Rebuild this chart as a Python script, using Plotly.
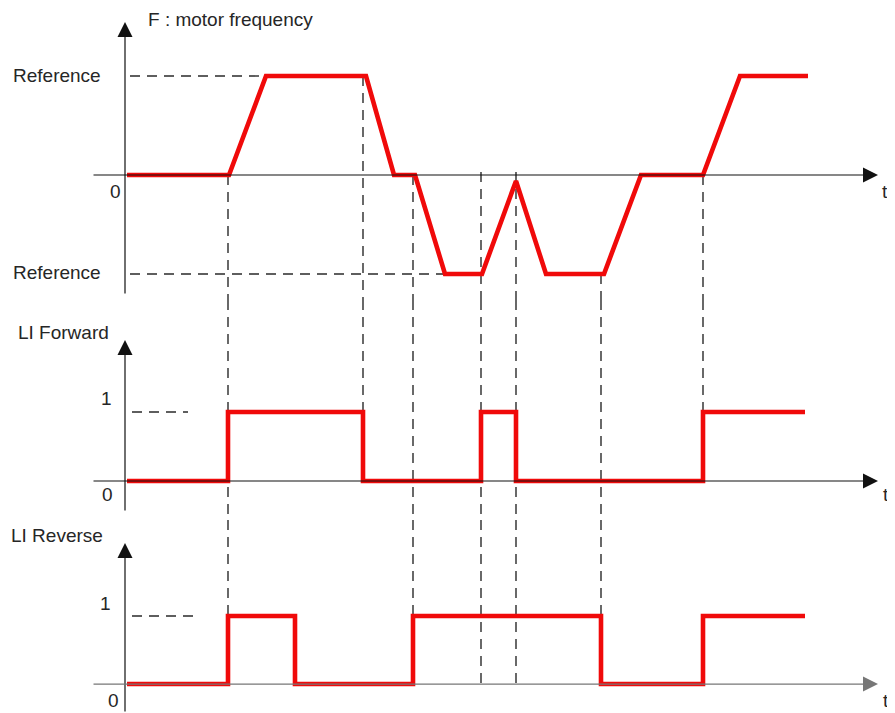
import plotly.graph_objects as go

# ---- signals (time in arbitrary units, 0 = vertical axis) ----
t_freq = [2, 104, 141, 241, 269, 290, 320, 357, 391, 421, 479, 516, 578, 615, 683]
f_freq = [0, 0, 1, 1, 0, 0, -1, -1, -0.06, -1, -1, 0, 0, 1, 1]

t_fwd = [2, 103, 103, 238, 238, 356, 356, 391, 391, 578, 578, 680]
v_fwd = [0, 0, 1, 1, 0, 0, 1, 1, 0, 0, 1, 1]

t_rev = [2, 103, 103, 170, 170, 288, 288, 476, 476, 578, 578, 680]
v_rev = [0, 0, 1, 1, 0, 0, 1, 1, 0, 0, 1, 1]

# vertical guides: (t, start panel, start level, end panel, end level)
guides = [
    (103, 0, 0, 2, 1),
    (238, 0, 1, 1, 1),
    (288, 0, 0, 2, 1),
    (356, 0, 0.03, 2, 0),
    (391, 0, 0.03, 2, 0),
    (476, 0, -1, 2, 1),
    (578, 0, 0, 1, 1),
]
# horizontal level guides: (panel, level, t0, t1)
levels = [(0, 1, 5, 140), (0, -1, 5, 320), (1, 1, 7, 63), (2, 1, 7, 68)]

panel_titles = ["F : motor frequency", "LI Forward", "LI Reverse"]

RED = "#f00a0a"
INK = "#262626"
FONT = "Liberation Sans, Arial, sans-serif"

# page has an 8px body margin, so the figure is 8px smaller each way
W, H = 887, 705
yaxes = ["y", "y2", "y3"]
ranges = [(-1.263, 1.687), (-0.565, 2.623), (-0.426, 2.412)]
domains = [(1 - 292 / H, 1), (1 - 512 / H, 1 - 292 / H), (0, 1 - 512 / H)]

fig = go.Figure()

# dashed guides
for i, ya in enumerate(yaxes):
    xs, ys = [], []
    for t, p0, v0, p1, v1 in guides:
        if p0 <= i <= p1:
            top = v0 if i == p0 else ranges[i][1]
            bot = v1 if i == p1 else ranges[i][0]
            xs += [t, t, None]
            ys += [top, bot, None]
    for p, lv, a, b in levels:
        if p == i:
            xs += [a, b, None]
            ys += [lv, lv, None]
    fig.add_trace(go.Scatter(x=xs, y=ys, mode="lines", yaxis=ya, hoverinfo="skip",
                             line=dict(color="#2a2a2a", width=1.4, dash="10px,7px")))

# signals
for (xs, ys), ya in zip([(t_freq, f_freq), (t_fwd, v_fwd), (t_rev, v_rev)], yaxes):
    fig.add_trace(go.Scatter(x=xs, y=ys, mode="lines", yaxis=ya,
                             line=dict(color=RED, width=4.6)))

# axes with arrows
v_axis = [(1.545, -1.212), (2.043, -0.449), (2.074, -0.426)]
h_col = ["#111111", "#111111", "#777777"]
ann = []
for i, ya in enumerate(yaxes):
    ann.append(dict(x=0, y=v_axis[i][0], ax=0, ay=v_axis[i][1], xref="x", yref=ya,
                    axref="x", ayref=ya, showarrow=True, arrowhead=2, arrowsize=2.5,
                    arrowwidth=1.2, arrowcolor="#111111", standoff=0, text=""))
    ann.append(dict(x=753, y=0, ax=-33, ay=0, xref="x", yref=ya,
                    axref="x", ayref=ya, showarrow=True, arrowhead=2, arrowsize=2.5,
                    arrowwidth=1.2, arrowcolor=h_col[i], standoff=0, text=""))

def label(text, x, y, ya, anchor="center"):
    ann.append(dict(x=x, y=y, xref="x", yref=ya, text=text, showarrow=False,
                    xanchor=anchor, yanchor="middle",
                    font=dict(family=FONT, size=19, color=INK)))

label(panel_titles[0], 21, 1.566, "y", "left")
label("Reference", -22, 1.01, "y", "right")
label("Reference", -22, -0.99, "y", "right")
label("0", -10, -0.17, "y")
label("t", 760, -0.17, "y")

label(panel_titles[1], -14, 2.145, "y2", "right")
label("1", -19, 1.2, "y2")
label("0", -18, -0.2, "y2")
label("t", 761, -0.2, "y2")

label(panel_titles[2], -20, 2.18, "y3", "right")
label("1", -20, 1.19, "y3")
label("0", -12, -0.235, "y3")
label("t", 761, -0.235, "y3")

fig.update_layout(
    width=W, height=H, margin=dict(l=0, r=0, t=0, b=0),
    plot_bgcolor="white", paper_bgcolor="white", showlegend=False,
    xaxis=dict(range=[-117, 770], visible=False, fixedrange=True),
    annotations=ann,
)
for i, ya in enumerate(yaxes):
    key = "yaxis" if i == 0 else f"yaxis{i + 1}"
    fig.update_layout({key: dict(range=list(ranges[i]), domain=list(domains[i]),
                                 visible=False, anchor="x", fixedrange=True)})

fig.write_html("out.html")
